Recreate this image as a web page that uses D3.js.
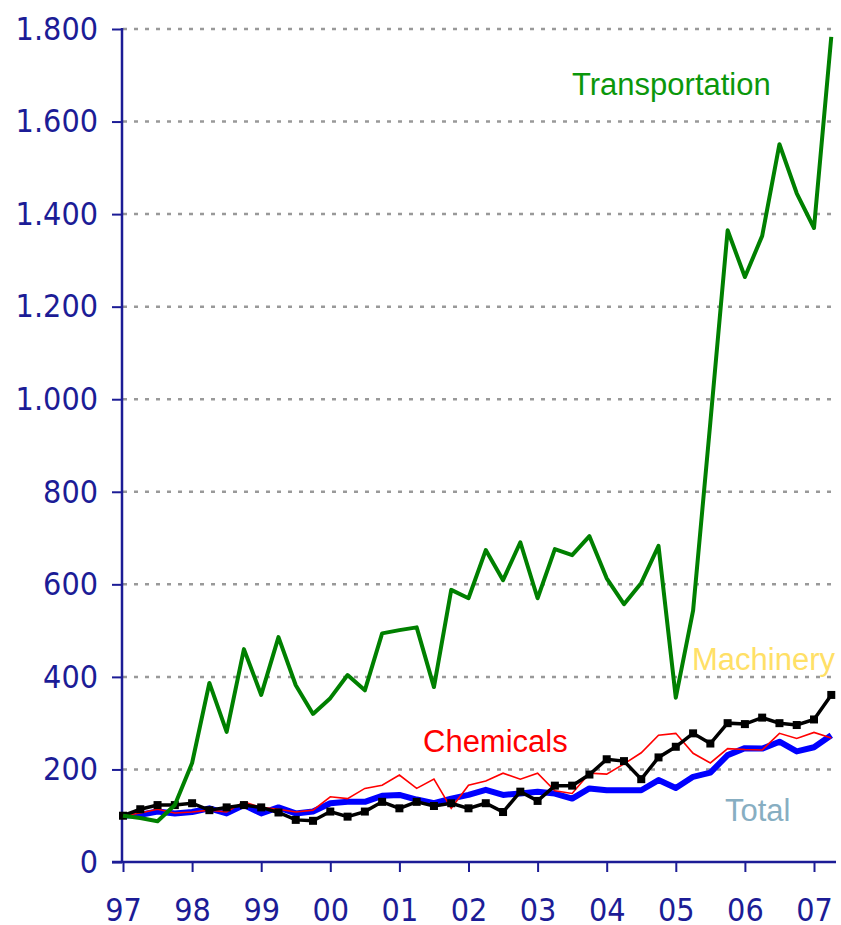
<!DOCTYPE html>
<html>
<head>
<meta charset="utf-8">
<script src="https://cdn.jsdelivr.net/npm/d3@7"></script>
<style>
  body { margin: 0; background: #fff; }
  .tick text { font-family: "DejaVu Sans Condensed", "DejaVu Sans", sans-serif; }
</style>
</head>
<body>
<div id="chart"></div>
<script>
// quarterly index, 97 Q1 = 100
const yearLabels = ["97", "98", "99", "00", "01", "02", "03", "04", "05", "06", "07"];
const yTicks = [0, 200, 400, 600, 800, 1000, 1200, 1400, 1600, 1800];

const transportation = [100, 95, 88, 123, 214, 387, 281, 460, 361, 486, 382, 320, 354, 404, 371, 494, 501, 507, 378, 588, 570, 674, 609, 691, 570, 676, 663, 704, 613, 557, 603, 683, 355, 543, 950, 1365, 1264, 1353, 1551, 1445, 1370, 1783];
const machinery = [100, 114, 123, 123, 127, 112, 118, 123, 118, 107, 91, 89, 109, 98, 109, 130, 116, 130, 121, 127, 116, 127, 108, 152, 132, 165, 165, 189, 222, 218, 179, 226, 249, 278, 256, 300, 298, 312, 300, 296, 308, 361];
const chemicals = [100, 106, 114, 106, 108, 112, 108, 130, 118, 114, 108, 112, 141, 137, 159, 166, 188, 159, 179, 116, 166, 175, 192, 179, 192, 154, 148, 192, 190, 212, 236, 274, 278, 235, 214, 245, 243, 242, 278, 267, 280, 268];
const total = [100, 102, 109, 105, 108, 116, 105, 123, 105, 118, 105, 109, 127, 130, 130, 143, 145, 135, 127, 137, 145, 156, 145, 148, 152, 148, 137, 159, 155, 155, 155, 177, 160, 184, 193, 231, 246, 245, 260, 239, 248, 274];

const axisColor = "#1c1c96";

const svg = d3.select("#chart")
  .append("svg")
  .attr("width", 841)
  .attr("height", 925);

// x: quarter index (0 = 97 Q1), y: index value
const x = d3.scaleLinear().domain([0, 40]).range([123, 814]);
const y = d3.scaleLinear().domain([0, 1800]).range([862, 29]);

// gridlines
svg.append("g")
  .selectAll("line")
  .data(yTicks.filter(d => d > 0))
  .enter()
  .append("line")
  .attr("x1", 123)
  .attr("x2", 836)
  .attr("y1", d => y(d))
  .attr("y2", d => y(d))
  .attr("stroke", "#999")
  .attr("stroke-width", 2.5)
  .attr("stroke-dasharray", "4,7");

// y axis
const yAxis = svg.append("g")
  .attr("transform", "translate(122,0)")
  .call(d3.axisLeft(y)
    .tickValues(yTicks)
    .tickSize(10)
    .tickPadding(14)
    .tickFormat(d => d3.format(",")(d).replace(",", ".")));

// x axis
const xAxis = svg.append("g")
  .attr("transform", "translate(0,862)")
  .call(d3.axisBottom(x)
    .tickValues(d3.range(0, 41, 4))
    .tickSize(10)
    .tickPadding(26)
    .tickFormat((d, i) => yearLabels[i]));

[yAxis, xAxis].forEach(a => {
  a.select(".domain").remove();
  a.selectAll(".tick line").attr("stroke", axisColor).attr("stroke-width", 2);
  a.selectAll(".tick text")
    .attr("fill", axisColor)
    .style("font-size", "32px");
});

// axis lines
svg.append("line")
  .attr("x1", 122).attr("x2", 122)
  .attr("y1", 28).attr("y2", 862)
  .attr("stroke", axisColor).attr("stroke-width", 2.5);
svg.append("line")
  .attr("x1", 112).attr("x2", 836)
  .attr("y1", 862).attr("y2", 862)
  .attr("stroke", axisColor).attr("stroke-width", 2.5);

const line = d3.line()
  .x((d, i) => x(i))
  .y(d => y(d));

// Total (blue, thick)
svg.append("path")
  .datum(total)
  .attr("d", line)
  .attr("fill", "none")
  .attr("stroke", "#0000ff")
  .attr("stroke-width", 6)
  .attr("stroke-linejoin", "round");

// Chemicals (red, thin)
svg.append("path")
  .datum(chemicals)
  .attr("d", line)
  .attr("fill", "none")
  .attr("stroke", "#ff0000")
  .attr("stroke-width", 1.6);

// Machinery (black with squares)
svg.append("path")
  .datum(machinery)
  .attr("d", line)
  .attr("fill", "none")
  .attr("stroke", "#000")
  .attr("stroke-width", 3.5);

svg.append("g")
  .selectAll("rect")
  .data(machinery)
  .enter()
  .append("rect")
  .attr("x", (d, i) => x(i) - 4)
  .attr("y", d => y(d) - 4)
  .attr("width", 8)
  .attr("height", 8)
  .attr("fill", "#000");

// Transportation (green)
svg.append("path")
  .datum(transportation)
  .attr("d", line)
  .attr("fill", "none")
  .attr("stroke", "#008000")
  .attr("stroke-width", 4)
  .attr("stroke-linejoin", "round");

// series labels
const labels = [
  { text: "Transportation", x: 572, y: 95, color: "#0b970b" },
  { text: "Machinery", x: 692, y: 670, color: "#ffe066" },
  { text: "Chemicals", x: 423, y: 752, color: "#ff0000" },
  { text: "Total", x: 725, y: 821, color: "#87aec2" }
];

svg.append("g")
  .selectAll("text")
  .data(labels)
  .enter()
  .append("text")
  .attr("x", d => d.x)
  .attr("y", d => d.y)
  .attr("fill", d => d.color)
  .style("font-family", "'Liberation Sans', Arial, sans-serif")
  .style("font-size", "31px")
  .text(d => d.text);
</script>
</body>
</html>
